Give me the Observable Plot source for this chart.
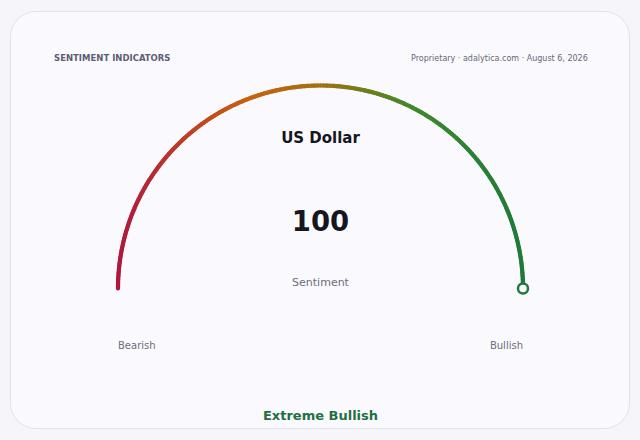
<!DOCTYPE html>
<html>
<head>
<meta charset="utf-8">
<script src="https://cdn.jsdelivr.net/npm/d3@7"></script>
<script src="https://cdn.jsdelivr.net/npm/@observablehq/plot@0.6"></script>
<style>
  html, body { margin: 0; padding: 0; background: #f5f5fa; }
  #wrap { position: relative; width: 640px; height: 440px; overflow: hidden; }
  #card { position: absolute; left: 10px; top: 11px; width: 618px; height: 416px;
          border: 1px solid #e2e2ea; border-radius: 26px; background: #fafafe; }
  #chart { position: absolute; left: 0; top: 0; }
</style>
</head>
<body>
<div id="wrap"><div id="card"></div><div id="chart"></div></div>
<script>
// ---- data ----
const headerTitle = "SENTIMENT INDICATORS";
const headerSource = "Proprietary · adalytica.com · August 6, 2026";
const assetName = ["US Dollar"];
const sentimentValue = [100];
const gaugeMin = [0];
const gaugeMax = [100];
const valueLabel = ["Sentiment"];
const endLabels = ["Bearish", "Bullish"];
const verdict = ["Extreme Bullish"];
const gradientStops = [-1, -0.35, 0, 0.45, 1];
const gradientColors = ["#b0173f", "#c8620f", "#a4700f", "#3f8a2b", "#1f7a3a"];

// ---- geometry (derived from value) ----
const v = sentimentValue[0], lo = gaugeMin[0], hi = gaugeMax[0];
const frac = (v - lo) / (hi - lo);
const steps = d3.range(0, 201).map(i => i / 200 * frac);
const pts = steps.map(f => {
  const a = Math.PI * (1 - f);
  return {x: Math.cos(a), y: Math.sin(a)};
});
const segs = d3.pairs(pts).map(([p, q]) => ({x1: p.x, y1: p.y, x2: q.x, y2: q.y, c: (p.x + q.x) / 2}));
const endPt = pts[pts.length - 1];
const colorOf = d3.scaleLinear().domain(gradientStops).range(gradientColors);

const font = "DejaVu Sans, sans-serif";

const chart = Plot.plot({
  width: 640,
  height: 440,
  margin: 0,
  style: {background: "transparent", fontFamily: font},
  x: {domain: [-1, 1], range: [117.5, 522.5], axis: null},
  y: {domain: [0, 1], range: [288, 85], axis: null},
  marks: [
    Plot.link(segs, {x1: "x1", y1: "y1", x2: "x2", y2: "y2",
      stroke: d => colorOf(d.c), strokeWidth: 4.2, strokeLinecap: "round"}),
    Plot.dot([endPt], {x: "x", y: "y", r: 5, fill: "#fafafe",
      stroke: colorOf(endPt.x), strokeWidth: 2.5}),
    Plot.text([headerTitle], {x: -1.316, y: 1.133, text: d => d, textAnchor: "start",
      fontSize: 8.5, fontWeight: "bold", fill: "#5d5d75", fontFamily: font, letterSpacing: "0.45px"}),
    Plot.text([headerSource], {x: 1.32, y: 1.133, text: d => d, textAnchor: "end",
      fontSize: 8, fill: "#66667a", fontFamily: font}),
    Plot.text(assetName, {x: 0, y: 0.74, text: d => d, fontSize: 15, fontWeight: "bold",
      fill: "#16161e", fontFamily: font}),
    Plot.text(sentimentValue, {x: 0, y: 0.325, text: d => String(d), fontSize: 27.5, fontWeight: "bold",
      fill: "#16161e", fontFamily: font}),
    Plot.text(valueLabel, {x: 0, y: 0.032, text: d => d, fontSize: 11, fill: "#6c6c7c", fontFamily: font}),
    Plot.text([endLabels[0]], {x: -1, y: -0.283, text: d => d, textAnchor: "start",
      fontSize: 10, fill: "#6c6c7c", fontFamily: font}),
    Plot.text([endLabels[1]], {x: 1, y: -0.283, text: d => d, textAnchor: "end",
      fontSize: 10, fill: "#6c6c7c", fontFamily: font}),
    Plot.text(verdict, {x: 0, y: -0.625, text: d => d, fontSize: 13, fontWeight: "bold",
      fill: "#1e7040", fontFamily: font, letterSpacing: "0.2px"})
  ]
});
document.getElementById("chart").appendChild(chart);
</script>
</body>
</html>
